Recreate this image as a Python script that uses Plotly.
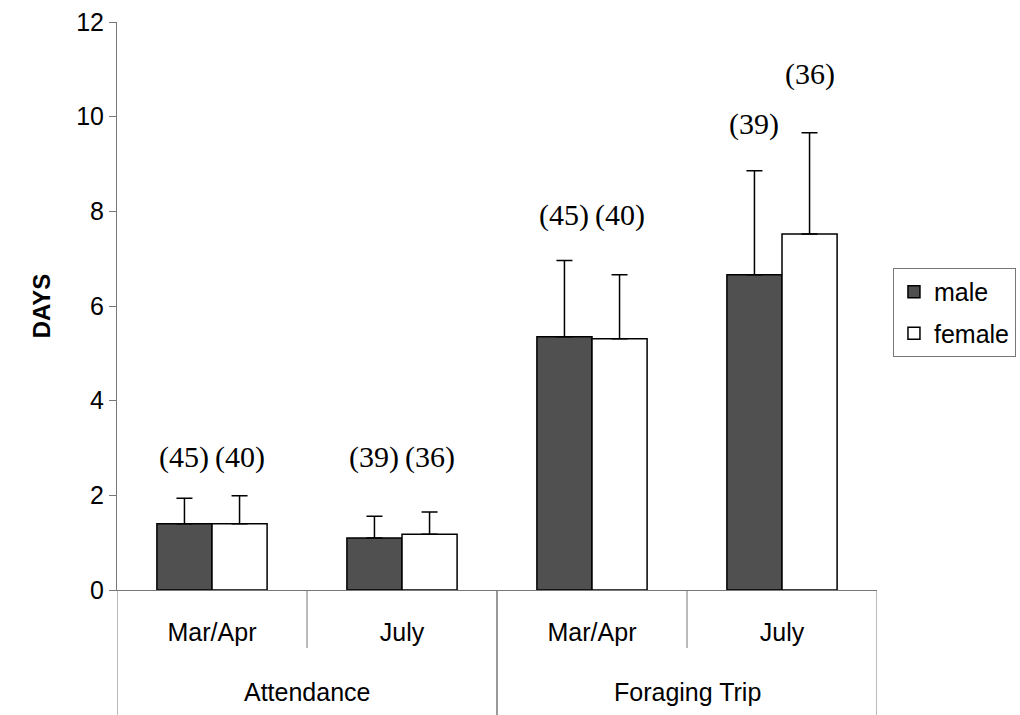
import plotly.graph_objects as go

# Mean number of days (with SD) by activity, period and sex
activities = ["Attendance", "Attendance", "Foraging Trip", "Foraging Trip"]
periods = ["Mar/Apr", "July", "Mar/Apr", "July"]

male_mean = [1.40, 1.10, 5.35, 6.66]
male_sd = [0.54, 0.46, 1.61, 2.20]
female_mean = [1.40, 1.18, 5.31, 7.52]
female_sd = [0.59, 0.47, 1.35, 2.14]

# sample sizes printed above each bar
male_n = [45, 39, 45, 39]
female_n = [40, 36, 40, 36]

# heights (in days) at which the sample sizes are written
male_label_y = [2.81, 2.81, 7.92, 9.85]
female_label_y = [2.81, 2.81, 7.92, 10.90]

SANS = "Liberation Sans, Arial, sans-serif"
SERIF = "Liberation Serif, Times New Roman, serif"
BAR_GAP = 0.42
LINE = "#777"

# one slot per (activity, period) pair along a numeric x axis
xpos = list(range(len(periods)))

fig = go.Figure()
fig.add_trace(go.Bar(
    name="male", x=xpos, y=male_mean, legendgroup="m",
    marker=dict(color="#505050", line=dict(color="black", width=1.5)),
    error_y=dict(type="data", symmetric=False, array=male_sd,
                 arrayminus=[0] * len(male_sd), color="black",
                 thickness=1.5, width=8),
))
fig.add_trace(go.Bar(
    name="female", x=xpos, y=female_mean, legendgroup="f",
    marker=dict(color="white", line=dict(color="black", width=1.5)),
    error_y=dict(type="data", symmetric=False, array=female_sd,
                 arrayminus=[0] * len(female_sd), color="black",
                 thickness=1.5, width=8),
))

# n labels centred over each bar of a group
half = (1 - BAR_GAP) / 4
annotations = []
for i in xpos:
    for n, yv, dx in ((male_n[i], male_label_y[i], -half),
                      (female_n[i], female_label_y[i], half)):
        annotations.append(dict(
            x=i + dx, y=yv, xref="x", yref="y", text=f"({n})",
            showarrow=False, font=dict(family=SERIF, size=30, color="black"),
            xanchor="center", yanchor="middle",
        ))

# group the periods under their activity: outer labels and table-like rules
plot_h = 715 - 22 - 125
inner_depth = -58 / plot_h
outer_depth = -125 / plot_h
shapes = []
groups = []
for i, act in enumerate(activities):
    if not groups or groups[-1][0] != act:
        groups.append([act, i, i])
    else:
        groups[-1][2] = i
for act, start, end in groups:
    annotations.append(dict(
        x=(start + end) / 2, y=-102 / plot_h, xref="x", yref="paper",
        text=act, showarrow=False, yanchor="middle",
        font=dict(family=SANS, size=25, color="black"),
    ))
    for b in (start - 0.5, end + 0.5):
        shapes.append(dict(
            type="line", xref="x", yref="paper", x0=b, x1=b,
            y0=0, y1=outer_depth, line=dict(color=LINE, width=1),
        ))
    for b in range(start, end):
        shapes.append(dict(
            type="line", xref="x", yref="paper", x0=b + 0.5, x1=b + 0.5,
            y0=0, y1=inner_depth, line=dict(color=LINE, width=1),
        ))

fig.update_layout(
    width=1020, height=715,
    margin=dict(l=117, r=143, t=22, b=125, autoexpand=False),
    paper_bgcolor="white", plot_bgcolor="white",
    barmode="group", bargap=BAR_GAP, bargroupgap=0,
    font=dict(family=SANS, size=25, color="black"),
    annotations=annotations, shapes=shapes,
    legend=dict(
        x=1.021, y=0.567, xanchor="left", yanchor="top",
        bordercolor=LINE, borderwidth=1, bgcolor="white",
        traceorder="grouped", tracegroupgap=6,
        font=dict(family=SANS, size=25, color="black"),
    ),
    xaxis=dict(
        range=[-0.5, len(periods) - 0.5], tickvals=xpos, ticktext=periods,
        showline=True, linecolor=LINE, linewidth=1, ticks="",
        showgrid=False, zeroline=False, ticklabelstandoff=20,
        tickfont=dict(family=SANS, size=25, color="black"),
    ),
    yaxis=dict(
        range=[0, 12], dtick=2, showline=True, linecolor=LINE, linewidth=1,
        ticks="outside", ticklen=7, tickcolor=LINE, showgrid=False,
        zeroline=False, tickfont=dict(family=SANS, size=25, color="black"),
        title=dict(text="<b>DAYS</b>", standoff=18,
                   font=dict(family=SANS, size=24, color="black")),
    ),
)

fig.write_html("out.html")
